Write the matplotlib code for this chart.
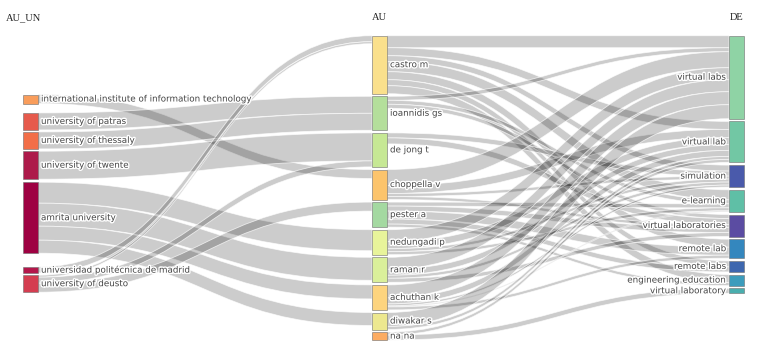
import matplotlib.pyplot as plt
from matplotlib.path import Path
from matplotlib.patches import PathPatch, Rectangle
import matplotlib.patheffects as pe

# --- DATA ---
au_un = ["international institute of information technology", "university of patras",
         "university of thessaly", "university of twente", "amrita university",
         "universidad politécnica de madrid", "university of deusto"]
au = ["castro m", "ioannidis gs", "de jong t", "choppella v", "pester a",
      "nedungadi p", "raman r", "achuthan k", "diwakar s", "na na"]
de = ["virtual labs", "virtual lab", "simulation", "e-learning", "virtual laboratories",
      "remote lab", "remote labs", "engineering education", "virtual laboratory"]

# AU_UN -> AU
un_src = ["international institute of information technology", "university of patras",
          "university of thessaly", "university of twente",
          "amrita university", "amrita university", "amrita university", "amrita university",
          "universidad politécnica de madrid",
          "university of deusto", "university of deusto", "university of deusto"]
un_tgt = ["choppella v", "ioannidis gs", "ioannidis gs", "de jong t",
          "nedungadi p", "raman r", "achuthan k", "diwakar s",
          "castro m", "castro m", "de jong t", "pester a"]
un_val = [9, 17, 17, 28, 21, 23, 14, 13, 6, 2, 6, 9]

# AU -> DE
au_src = ["castro m"] * 7 + ["ioannidis gs"] * 3 + ["de jong t"] * 2 + ["choppella v"] * 4 \
    + ["pester a"] * 5 + ["nedungadi p"] * 4 + ["raman r"] * 4 + ["achuthan k"] * 5 \
    + ["diwakar s"] * 2 + ["na na"] * 2
au_tgt = ["virtual labs", "virtual lab", "simulation", "e-learning", "remote lab", "remote labs", "engineering education",
          "virtual labs", "e-learning", "virtual laboratories",
          "simulation", "virtual laboratories",
          "virtual labs", "virtual lab", "simulation", "virtual laboratories",
          "e-learning", "virtual laboratories", "remote lab", "remote labs", "engineering education",
          "virtual labs", "virtual lab", "simulation", "e-learning",
          "virtual labs", "virtual lab", "simulation", "virtual laboratories",
          "virtual labs", "virtual lab", "simulation", "e-learning", "remote lab",
          "virtual labs", "virtual lab",
          "virtual lab", "virtual laboratory"]
au_val = [12, 8, 6, 10, 8, 6, 8,
          4, 4, 4,
          5, 6,
          16, 8, 3, 3,
          4, 5, 8, 5, 3,
          12, 7, 3, 3,
          12, 6, 3, 4,
          13, 6, 2, 1, 3,
          14, 3,
          3, 5]

# colours
un_colors = ["#f99d5b", "#e65a4c", "#f26e48", "#ad1a4a", "#9e0142", "#b4174b", "#d43d50"]
au_colors = ["#fae08c", "#b4df9b", "#c6e894", "#fcc46c", "#a4d9a1",
             "#e8f49a", "#daf09a", "#fdd47e", "#ede88f", "#fcac62"]
de_colors = ["#8fd3a5", "#72c7a4", "#4a5aab", "#5fbfa6", "#5b4ca2",
             "#3487be", "#3e67af", "#3c9cbc", "#4aaeae"]

# --- LAYOUT ---
node_w = 15
col_x = [23, 372, 729]
un_top, un_gaps = 94.5, [9.4, 2.0, 2.3, 3.0, 13.7, 2.3]
mid_top, mid_gap = 35.7, 2.6
de_top, de_gap = 35.7, 2.7

fig = plt.figure(figsize=(7.84, 3.53), dpi=100)
ax = fig.add_axes([0, 0, 1, 1])
ax.set_xlim(0, 784)
ax.set_ylim(353, 0)
ax.axis("off")


def node_sizes(names, links_in, links_out):
    size = {}
    for n in names:
        s_in = sum(v for s, t, v in links_in if t == n)
        s_out = sum(v for s, t, v in links_out if s == n)
        size[n] = max(s_in, s_out)
    return size


left_links = list(zip(un_src, un_tgt, un_val))
right_links = list(zip(au_src, au_tgt, au_val))

size = {}
size.update(node_sizes(au_un, [], left_links))
size.update(node_sizes(au, left_links, right_links))
size.update(node_sizes(de, right_links, []))

ypos = {}
y = un_top
for i, n in enumerate(au_un):
    if i > 0:
        y += un_gaps[i - 1]
    ypos[n] = y
    y += size[n]
for col, top, gap in [(au, mid_top, mid_gap), (de, de_top, de_gap)]:
    y = top
    for n in col:
        ypos[n] = y
        y += size[n] + gap

xpos = {}
for n in au_un:
    xpos[n] = col_x[0]
for n in au:
    xpos[n] = col_x[1]
for n in de:
    xpos[n] = col_x[2]


def draw_links(links):
    # stack links at each node, ordered like d3-sankey
    out_off = {}
    in_off = {}
    order_out = sorted(links, key=lambda l: (ypos[l[0]], ypos[l[1]]))
    start = {}
    for l in order_out:
        s = l[0]
        o = out_off.get(s, 0)
        start[id(l)] = ypos[s] + o
        out_off[s] = o + l[2]
    order_in = sorted(links, key=lambda l: (ypos[l[1]], ypos[l[0]]))
    end = {}
    for l in order_in:
        t = l[1]
        o = in_off.get(t, 0)
        end[id(l)] = ypos[t] + o
        in_off[t] = o + l[2]
    for l in links:
        s, t, v = l
        x0 = xpos[s] + node_w
        x1 = xpos[t]
        xm = (x0 + x1) / 2
        y0 = start[id(l)]
        y1 = end[id(l)]
        verts = [(x0, y0), (xm, y0), (xm, y1), (x1, y1),
                 (x1, y1 + v), (xm, y1 + v), (xm, y0 + v), (x0, y0 + v), (x0, y0)]
        codes = [Path.MOVETO, Path.CURVE4, Path.CURVE4, Path.CURVE4,
                 Path.LINETO, Path.CURVE4, Path.CURVE4, Path.CURVE4, Path.CLOSEPOLY]
        ax.add_patch(PathPatch(Path(verts, codes), facecolor=(0, 0, 0, 0.2),
                               edgecolor=(1, 1, 1, 0.7), lw=0.6, zorder=1))


draw_links(left_links)
draw_links(right_links)

halo = [pe.withStroke(linewidth=2, foreground="white")]
for names, colors in [(au_un, un_colors), (au, au_colors), (de, de_colors)]:
    for n, c in zip(names, colors):
        ax.add_patch(Rectangle((xpos[n], ypos[n]), node_w, size[n], facecolor=c,
                               edgecolor=(0.45, 0.45, 0.45, 0.6), lw=0.7, zorder=2))
        yc = ypos[n] + size[n] / 2
        if names is de:
            ax.text(xpos[n] - 3, yc, n, ha="right", va="center", fontsize=6.3,
                    color="#444444", path_effects=halo, zorder=3)
        else:
            ax.text(xpos[n] + node_w + 3, yc, n, ha="left", va="center", fontsize=6.3,
                    color="#444444", path_effects=halo, zorder=3)

# column headers
hdr = dict(fontsize=7.5, family="Liberation Serif", color="#222222", va="center")
ax.text(6, 18, "AU_UN", ha="left", **hdr)
ax.text(col_x[1], 18, "AU", ha="left", **hdr)
ax.text(col_x[2] + node_w, 18, "DE", ha="right", **hdr)

fig.savefig("out.png", dpi=100)
